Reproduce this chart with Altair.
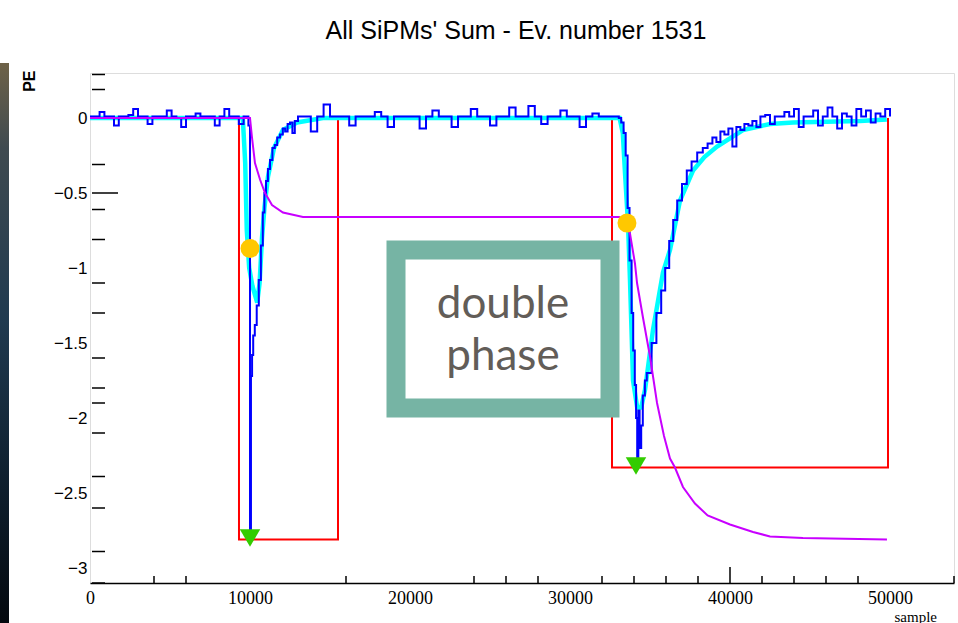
import altair as alt
import pandas as pd

# ---------------- texts ----------------
TITLE = "All SiPMs' Sum - Ev. number 1531"
X_TITLE = "sample"
Y_TITLE = "PE"
NOTE = ["double", "phase"]

# ---------------- axes ----------------
x_tick_labels = [0, 10000, 20000, 30000, 40000, 50000]
y_tick_labels = [0, -0.5, -1, -1.5, -2, -2.5, -3]
x_minor_ticks = [4000, 6000, 16000, 24000, 26000, 28000, 32000, 34000, 36000,
                 38000, 42000, 44000, 46000, 48000, 54000]
x_major_ticks = [40000]
y_minor_ticks = [0.29, 0.19, -0.31, -0.61, -0.81, -1.1, -1.3, -1.6, -1.8, -1.9,
                 -2.1, -2.39, -2.6, -2.89, -3.1]
y_major_ticks = [-0.5]

# ---------------- red integration windows (step outline) ----------------
red_x = [0, 9312, 9312, 15500, 15500, 32625, 32625, 49875, 49875]
red_y = [0, 0, -2.81, -2.81, 0, 0, -2.33, -2.33, 0]

# ---------------- blue raw waveform ----------------
blue_base1_start, blue_base1_step = 0, 300
blue_base1 = [0.01, 0.01, 0.04, 0.01, 0.01, -0.05, 0.01, 0.01, 0.02, 0.06, 0.01,
              0.01, -0.04, 0.01, 0.01, 0.01, 0.05, 0.01, 0.0, -0.06, 0.01, 0.01,
              0.03, 0.01, 0.01, 0.01, -0.05, 0.01, 0.06, 0.01, 0.01, -0.04, 0.01]
blue_pulse1_x = [9800, 9900, 10000, 10060, 10130, 10200, 10300, 10420, 10550, 10680,
                 10800, 10900, 11000, 11120, 11250, 11400, 11550, 11700, 11875, 12050,
                 12200, 12350, 12500, 12650, 12800]
blue_pulse1_y = [0.01, -0.05, -2.75, -1.72, -1.58, -1.45, -1.38, -1.25, -1.08, -0.85,
                 -0.63, -0.5, -0.42, -0.34, -0.28, -0.2, -0.18, -0.13, -0.11, -0.07,
                 -0.09, -0.04, -0.03, -0.1, -0.02]
blue_base2_start, blue_base2_step = 13000, 400
blue_base2 = [0.01, 0.01, -0.09, 0.01, 0.09, 0.01, 0.01, 0.01, -0.05, 0.01, 0.01,
              0.01, 0.04, 0.01, -0.06, 0.01, 0.01, 0.01, 0.01, -0.07, 0.01, 0.05,
              0.01, 0.01, -0.06, 0.01, 0.01, 0.06, 0.01, 0.01, -0.05, 0.01, 0.01,
              0.07, 0.01, 0.01, 0.08, 0.01, -0.04, 0.01, 0.01, 0.05, 0.01, 0.01,
              -0.06, 0.01, 0.03, 0.01, 0.01, 0.01]
blue_pulse2_x = [33050, 33200, 33350, 33480, 33600, 33720, 33850, 33950, 34050, 34130,
                 34200, 34270, 34350, 34450, 34550, 34680, 34800, 35100, 35400, 35700,
                 35950, 36200, 36450, 36700, 37000, 37300, 37600, 37950, 38300, 38600,
                 38900, 39150, 39400, 39650, 39900, 40150, 40400, 40650, 40900, 41150,
                 41400, 41650]
blue_pulse2_y = [0.0, -0.03, -0.1, -0.25, -0.6, -0.95, -1.3, -1.55, -1.78, -2.0,
                 -2.32, -1.95, -2.2, -2.05, -1.85, -1.75, -1.7, -1.5, -1.3, -1.15,
                 -1.0, -0.82, -0.68, -0.55, -0.44, -0.35, -0.29, -0.23, -0.2, -0.17,
                 -0.13, -0.16, -0.09, -0.11, -0.07, -0.19, -0.06, -0.08, -0.04, -0.05,
                 -0.02, -0.06]
blue_base3_start, blue_base3_step = 41900, 300
blue_base3 = [0.01, 0.02, -0.04, 0.01, 0.01, 0.04, 0.01, 0.06, -0.06, 0.01, 0.01,
              0.05, -0.05, 0.01, 0.07, 0.01, -0.07, 0.03, 0.01, -0.05, 0.06, 0.01,
              0.05, -0.03, 0.03, 0.01, 0.06, 0.01]

# ---------------- cyan smoothed waveform ----------------
cyan_x = [0, 9550, 9700, 9800, 9950, 10150, 10450, 10600, 10750, 10900, 11125, 11500,
          12060, 12940, 14560, 33100, 33300, 33440, 33625, 33750, 33940, 34200, 34450,
          34690, 35190, 35810, 36250, 36875, 37690, 38400, 39190, 40810, 42500, 43940,
          46000, 48125, 49800]
cyan_y = [0, 0, -0.3, -0.75, -1.0, -1.12, -1.23, -1.1, -0.8, -0.6, -0.39, -0.2,
          -0.08, -0.03, 0, 0, -0.1, -0.37, -0.7, -1.08, -1.75, -1.93, -1.93,
          -1.81, -1.41, -1.03, -0.88, -0.55, -0.35, -0.26, -0.19, -0.08, -0.04, -0.03,
          -0.025, -0.02, -0.01]

# ---------------- magenta integral ----------------
mag_x = [0, 10000, 10125, 10310, 10625, 10940, 11375, 12060, 13310, 33100, 33750,
         34060, 34190, 34560, 35000, 35440, 35875, 36250, 36560, 37060, 37810, 38600,
         40000, 41440, 42500, 44560, 49810]
mag_y = [0, 0, -0.13, -0.3, -0.41, -0.5, -0.58, -0.63, -0.66, -0.66, -0.77,
         -0.97, -1.1, -1.33, -1.59, -1.9, -2.12, -2.27, -2.33, -2.46, -2.57, -2.65,
         -2.71, -2.76, -2.79, -2.8, -2.81]

# ---------------- markers ----------------
gold_x = [10000, 33560]
gold_y = [-0.87, -0.70]
green_x = [10000, 34125]
green_y = [-2.80, -2.32]

# ---------------- annotation (data coordinates) ----------------
note_box_x = [19125, 32500]
note_box_y = [-0.88, -1.933]
note_text_x = [25810, 25810]
note_text_y = [-1.333, -1.68]

# ================= build tables =================
def seg(start, step, values):
    return [start + i * step for i in range(len(values))], list(values)

bx, by = [], []
for xs_, ys_ in [seg(blue_base1_start, blue_base1_step, blue_base1),
                 (blue_pulse1_x, blue_pulse1_y),
                 seg(blue_base2_start, blue_base2_step, blue_base2),
                 (blue_pulse2_x, blue_pulse2_y),
                 seg(blue_base3_start, blue_base3_step, blue_base3)]:
    bx += xs_
    by += ys_

red_df = pd.DataFrame({"x": red_x, "y": red_y, "i": range(len(red_x))})
blue_df = pd.DataFrame({"x": bx, "y": by, "i": range(len(bx))})
cyan_df = pd.DataFrame({"x": cyan_x, "y": cyan_y, "i": range(len(cyan_x))})
mag_df = pd.DataFrame({"x": mag_x, "y": mag_y, "i": range(len(mag_x))})
gold_df = pd.DataFrame({"x": gold_x, "y": gold_y})
green_df = pd.DataFrame({"x": green_x, "y": green_y})
box_df = pd.DataFrame({"x": [note_box_x[0]], "x2": [note_box_x[1]],
                       "y": [note_box_y[0]], "y2": [note_box_y[1]]})
txt_df = pd.DataFrame({"x": note_text_x, "y": note_text_y, "t": NOTE})
xminor_df = pd.DataFrame({"x": x_minor_ticks})
xmajor_df = pd.DataFrame({"x": x_major_ticks})
yminor_df = pd.DataFrame({"y": y_minor_ticks})
ymajor_df = pd.DataFrame({"y": y_major_ticks})

W, H = 864, 510

xs = alt.Scale(domain=[0, 54000], nice=False, zero=False)
ys = alt.Scale(domain=[-3.1, 0.3], nice=False, zero=False)

x_axis = alt.Axis(values=x_tick_labels, format="d", labelFont="Liberation Serif",
                  labelFontSize=18, labelColor="black", labelPadding=6, ticks=False,
                  tickSize=0, domain=True, domainColor="black", domainWidth=1.5,
                  grid=False, labelFlush=False, title=X_TITLE,
                  titleFont="Liberation Serif", titleFontSize=15,
                  titleFontWeight="normal", titleColor="black", titleX=804, titleY=26,
                  titleAlign="left", titleBaseline="top")
y_axis = alt.Axis(values=y_tick_labels, format="~g", labelFont="Liberation Sans",
                  labelFontSize=17, labelColor="black", labelPadding=3, ticks=False,
                  tickSize=0, domain=False, grid=False, title=Y_TITLE,
                  titleFont="Liberation Sans", titleFontSize=16,
                  titleFontWeight="bold", titleColor="black", titleAngle=270,
                  titleX=-61, titleY=-3, titleAlign="right", titleBaseline="middle")

X = lambda f="x": alt.X(f"{f}:Q", scale=xs, axis=x_axis)
Y = lambda f="y": alt.Y(f"{f}:Q", scale=ys, axis=y_axis)

strip = alt.Chart(pd.DataFrame({"a": [0]})).mark_rect(
    color=alt.Gradient(gradient="linear", x1=0, y1=0, x2=0, y2=1,
                       stops=[alt.GradientStop(offset=0, color="#6e6248"),
                              alt.GradientStop(offset=0.15, color="#3f4a50"),
                              alt.GradientStop(offset=0.45, color="#203a50"),
                              alt.GradientStop(offset=0.75, color="#0e1e2c"),
                              alt.GradientStop(offset=1, color="#03070c")])
).encode(x=alt.value(-90), x2=alt.value(-81), y=alt.value(-10), y2=alt.value(560))

red = alt.Chart(red_df).mark_line(color="#ff0000", strokeWidth=2).encode(
    x=X(), y=Y(), order="i:Q")
cyan = alt.Chart(cyan_df).mark_line(color="#00ffff", strokeWidth=4.5).encode(
    x=X(), y=Y(), order="i:Q")
blue = alt.Chart(blue_df).mark_line(color="#0000ff", strokeWidth=2,
                                    interpolate="step-after").encode(
    x=X(), y=Y(), order="i:Q")
mag = alt.Chart(mag_df).mark_line(color="#c800ff", strokeWidth=2).encode(
    x=X(), y=Y(), order="i:Q")
gold = alt.Chart(gold_df).mark_point(shape="circle", filled=True, opacity=1,
                                     color="#ffc800", size=360).encode(x=X(), y=Y())
green = alt.Chart(green_df).mark_point(shape="triangle-down", filled=True, opacity=1,
                                       color="#33cc00", size=420).encode(x=X(), y=Y())
box = alt.Chart(box_df).mark_rect(fill="white", stroke="#76b4a4",
                                  strokeWidth=19).encode(
    x=X(), x2="x2:Q", y=Y(), y2="y2:Q")
txt = alt.Chart(txt_df).mark_text(font="Lato", fontSize=44, color="#625d58",
                                  align="center", baseline="alphabetic").encode(
    x=X(), y=Y(), text="t:N")

xminor = alt.Chart(xminor_df).mark_rule(color="black", strokeWidth=1.5).encode(
    x=X(), y=alt.value(H), y2=alt.value(H - 7))
xmajor = alt.Chart(xmajor_df).mark_rule(color="black", strokeWidth=1.5).encode(
    x=X(), y=alt.value(H), y2=alt.value(H - 16))
yminor = alt.Chart(yminor_df).mark_rule(color="black", strokeWidth=1.5).encode(
    y=Y(), x=alt.value(2), x2=alt.value(15))
ymajor = alt.Chart(ymajor_df).mark_rule(color="black", strokeWidth=1.5).encode(
    y=Y(), x=alt.value(2), x2=alt.value(28))

chart = alt.layer(
    strip, xminor, xmajor, yminor, ymajor, red, cyan, blue, mag, box, txt, gold, green
).properties(
    width=W, height=H,
    autosize=alt.AutoSizeParams(type="none"),
    padding={"left": 90, "top": 73, "right": 4, "bottom": 40},
    title=alt.TitleParams(TITLE, font="Liberation Sans", fontSize=25,
                          fontWeight="normal", color="black", anchor="middle",
                          frame="group", offset=19, dx=-6),
).configure_view(stroke=None).configure(background="white")

chart.save("out.html", embed_options={"renderer": "svg", "actions": False})
